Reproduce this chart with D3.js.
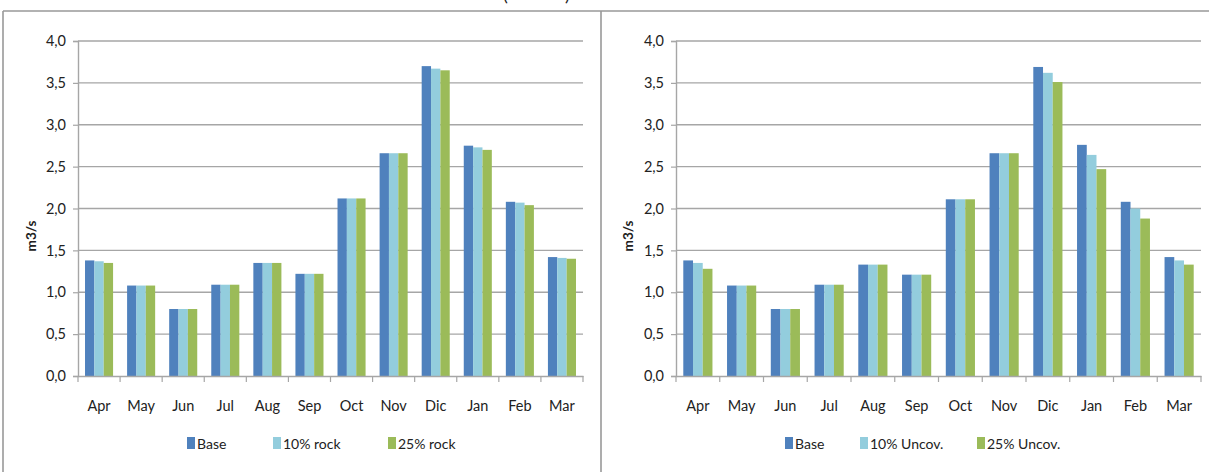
<!DOCTYPE html>
<html><head><meta charset="utf-8">
<script src="https://cdn.jsdelivr.net/npm/d3@7"></script>
<style>
html,body{margin:0;padding:0;background:#fff;}
svg{display:block;}
text{font-family:Lato,"Liberation Sans Narrow",sans-serif;fill:#222;}
</style></head>
<body>
<svg id="chart" width="1209" height="472"></svg>
<script>
const months = ["Apr","May","Jun","Jul","Aug","Sep","Oct","Nov","Dic","Jan","Feb","Mar"];
const yTicks = [0,0.5,1,1.5,2,2.5,3,3.5,4];
const seriesColors = ["#4F81BD","#93CDDD","#9BBB59"];

// Left panel: rock
const leftNames = ["Base","10% rock","25% rock"];
const leftBase = [1.38,1.08,0.80,1.09,1.35,1.22,2.12,2.66,3.70,2.75,2.08,1.42];
const leftRock10 = [1.37,1.08,0.80,1.09,1.35,1.22,2.12,2.66,3.67,2.73,2.07,1.41];
const leftRock25 = [1.35,1.08,0.80,1.09,1.35,1.22,2.12,2.66,3.65,2.70,2.04,1.40];

// Right panel: uncovered
const rightNames = ["Base","10% Uncov.","25% Uncov."];
const rightBase = [1.38,1.08,0.80,1.09,1.33,1.21,2.11,2.66,3.69,2.76,2.08,1.42];
const rightUnc10 = [1.35,1.08,0.80,1.09,1.33,1.21,2.11,2.66,3.62,2.64,2.00,1.38];
const rightUnc25 = [1.28,1.08,0.80,1.09,1.33,1.21,2.11,2.66,3.51,2.47,1.88,1.33];

const svg = d3.select("#chart");
const fmt = d => d.toFixed(1).replace(".", ",");

// frame
const frameColor = "#999";
svg.append("line").attr("x1",3).attr("x2",1209).attr("y1",11).attr("y2",11).attr("stroke",frameColor).attr("stroke-width",1.6);
svg.append("line").attr("x1",3).attr("x2",3).attr("y1",11).attr("y2",472).attr("stroke",frameColor).attr("stroke-width",1.6);
svg.append("line").attr("x1",601).attr("x2",601).attr("y1",11).attr("y2",472).attr("stroke",frameColor).attr("stroke-width",1.6);
svg.append("text").attr("x",503).attr("y",1).attr("font-size",18).text("(");
svg.append("text").attr("x",565).attr("y",1).attr("font-size",18).text(")");

function panel(cfg){
  const g = svg.append("g");
  const x = d3.scaleBand().domain(months).range([cfg.x0,cfg.x1]).padding(0);
  const y = d3.scaleLinear().domain([0,4]).range([376,41]);
  const sub = d3.scaleBand().domain([0,1,2]).range([0,x.bandwidth()]).paddingInner(0).paddingOuter(0.75);

  // gridlines
  g.append("g").selectAll("line").data(yTicks.filter(d=>d>0)).join("line")
    .attr("x1",cfg.x0).attr("x2",cfg.x1).attr("y1",d=>y(d)).attr("y2",d=>y(d))
    .attr("stroke","#A6A6A6").attr("stroke-width",1.4);

  // bars
  cfg.series.forEach((vals,si)=>{
    g.append("g").selectAll("rect").data(vals).join("rect")
      .attr("x",(d,i)=>x(months[i])+sub(si))
      .attr("width",sub.bandwidth())
      .attr("y",d=>y(d)).attr("height",d=>y(0)-y(d))
      .attr("fill",seriesColors[si]);
  });

  // y axis
  const ya = g.append("g").attr("transform",`translate(${cfg.x0},0)`)
    .call(d3.axisLeft(y).tickValues(yTicks).tickFormat(fmt).tickSize(5).tickPadding(7));
  ya.select(".domain").attr("stroke","#A6A6A6").attr("stroke-width",1.4);
  ya.selectAll(".tick line").attr("stroke","#A6A6A6").attr("stroke-width",1.2);
  ya.selectAll("text").attr("font-size",14.5).attr("font-family","Lato").attr("fill","#222");

  // x axis
  const xa = g.append("g").attr("transform",`translate(0,${y(0)})`)
    .call(d3.axisBottom(x).tickSize(0).tickPadding(22));
  xa.select(".domain").attr("stroke","#A6A6A6").attr("stroke-width",1.4);
  xa.selectAll("text").attr("font-size",14.5).attr("font-family","Lato").attr("fill","#222")
    .attr("dy","0").attr("dominant-baseline","central").attr("y",29);
  // category separator ticks
  g.append("g").selectAll("line").data(d3.range(months.length+1)).join("line")
    .attr("x1",i=>cfg.x0+i*x.step()).attr("x2",i=>cfg.x0+i*x.step())
    .attr("y1",y(0)).attr("y2",y(0)+6).attr("stroke","#A6A6A6").attr("stroke-width",1.2);

  // y title
  g.append("text").attr("transform",`translate(${cfg.titleX},236) rotate(-90)`)
    .attr("text-anchor","middle").attr("dominant-baseline","central")
    .attr("font-size",13.5).attr("font-weight","bold").text("m3/s");

  // legend
  cfg.names.forEach((n,i)=>{
    const lx = cfg.legendX[i];
    g.append("rect").attr("x",lx).attr("y",437).attr("width",8).attr("height",12).attr("fill",seriesColors[i]);
    g.append("text").attr("x",lx+10).attr("y",443).attr("dominant-baseline","central")
      .attr("font-size",14).text(n);
  });
}

panel({x0:78,x1:583,titleX:31,names:leftNames,series:[leftBase,leftRock10,leftRock25],legendX:[187,273,388]});
panel({x0:676,x1:1201,titleX:628,names:rightNames,series:[rightBase,rightUnc10,rightUnc25],legendX:[785,860,977]});
</script>
</body></html>
